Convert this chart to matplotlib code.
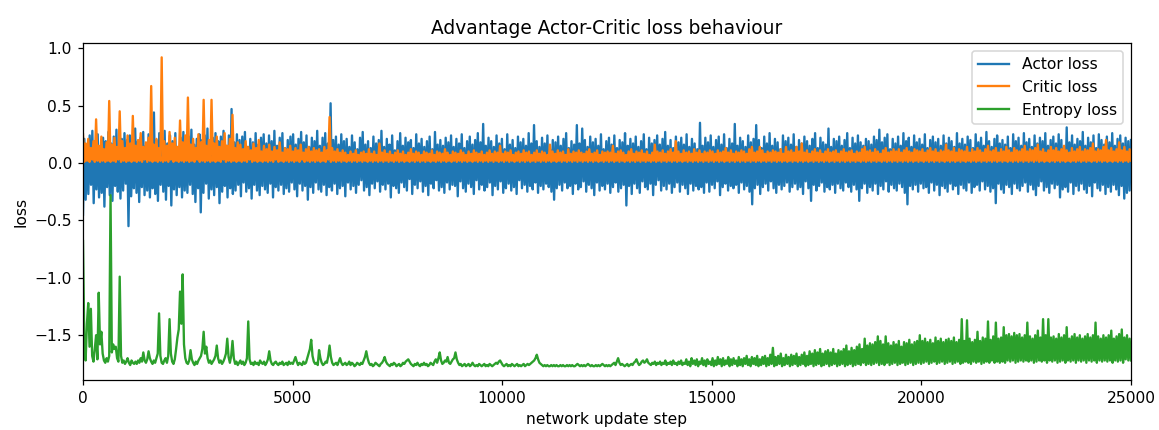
import numpy as np
import matplotlib
matplotlib.use("Agg")
import matplotlib.pyplot as plt

TITLE = "Advantage Actor-Critic loss behaviour"
XLABEL = "network update step"
YLABEL = "loss"
SERIES_NAMES = ["Actor loss", "Critic loss", "Entropy loss"]
TOTAL_STEPS = 25000

actor_loss = [
    -0.45, 0.21, -0.32, 0.16, -0.27, 0.24, -0.19, 0.28, -0.35, 0.18, -0.23, 0.25, -0.30, 0.14, -0.26, 0.22, -0.38, 0.19, -0.21, 0.27,
    -0.28, 0.17, -0.33, 0.23, -0.20, 0.29, -0.25, 0.15, -0.31, 0.21, -0.24, 0.26, -0.18, 0.20, -0.55, 0.24, -0.29, 0.16, -0.22, 0.30,
    -0.26, 0.19, -0.34, 0.22, -0.21, 0.27, -0.28, 0.15, -0.24, 0.25, -0.30, 0.18, -0.22, 0.44, -0.27, 0.20, -0.33, 0.26, -0.19,
    0.21, -0.25, 0.28, -0.32, 0.17, -0.20, 0.24, -0.37, 0.19, -0.23, 0.26, -0.28, 0.14, -0.21, 0.22, -0.30, 0.27, -0.24, 0.18, -0.26,
    0.23, -0.19, 0.29, -0.27, 0.16, -0.34, 0.21, -0.22, 0.25, -0.43, 0.20, -0.26, 0.24, -0.18, 0.30, -0.31, 0.17, -0.23, 0.22,
    -0.28, 0.26, -0.21, 0.19, -0.35, 0.23, -0.25, 0.28, -0.20, 0.15, -0.30, 0.24, -0.22, 0.47, -0.27, 0.18, -0.24, 0.25, -0.19,
    0.20, -0.29, 0.23, -0.17, 0.27, -0.25, 0.14, -0.22, 0.21, -0.31, 0.18, -0.19, 0.26, -0.24, 0.16, -0.28, 0.22, -0.20, 0.25, -0.23,
    0.17, -0.26, 0.24, -0.18, 0.19, -0.30, 0.28, -0.21, 0.15, -0.24, 0.22, -0.19, 0.26, -0.27, 0.13, -0.22, 0.20, -0.25, 0.23, -0.17,
    0.25, -0.23, 0.16, -0.29, 0.21, -0.18, 0.27, -0.24, 0.18, -0.20, 0.24, -0.32, 0.14, -0.21, 0.22, -0.26, 0.19, -0.17, 0.28, -0.23,
    0.15, -0.25, 0.22, -0.19, 0.26, -0.28, 0.17, -0.21, 0.52, -0.24, 0.20, -0.18, 0.23, -0.27, 0.16, -0.22, 0.25, -0.20, 0.19, -0.29,
    0.21, -0.17, 0.14, -0.23, 0.24, -0.20, 0.18, -0.26, 0.12, -0.19, 0.22, -0.15, 0.27, -0.24, 0.16, -0.21, 0.19, -0.28, 0.13, -0.18,
    0.23, -0.22, 0.17, -0.16, 0.20, -0.25, 0.28, -0.19, 0.14, -0.23, 0.21, -0.18, 0.16, -0.30, 0.24, -0.20, 0.11, -0.22, 0.19, -0.26,
    0.26, -0.17, 0.15, -0.21, 0.22, -0.24, 0.18, -0.14, 0.20, -0.27, 0.13, -0.19, 0.25, -0.22, 0.17, -0.16, 0.21, -0.25, 0.14, -0.20,
    0.19, -0.28, 0.23, -0.18, 0.12, -0.22, 0.27, -0.15, 0.16, -0.24, 0.20, -0.21, 0.15, -0.26, 0.22, -0.17, 0.18, -0.23, 0.24, -0.19,
    0.14, -0.20, 0.21, -0.29, 0.17, -0.16, 0.25, -0.22, 0.13, -0.25, 0.19, -0.18, 0.23, -0.21, 0.16, -0.27, 0.20, -0.15, 0.26, -0.23,
    0.18, -0.19, 0.34, -0.24, 0.15, -0.21, 0.22, -0.17, 0.19, -0.28, 0.14, -0.20, 0.24, -0.23, 0.17, -0.16, 0.21, -0.26, 0.12, -0.22,
    0.25, -0.18, 0.16, -0.24, 0.20, -0.21, 0.13, -0.27, 0.23, -0.15, 0.18, -0.22, 0.21, -0.19, 0.15, -0.25, 0.26, -0.20, 0.17, -0.23,
    0.33, -0.17, 0.19, -0.26, 0.14, -0.20, 0.22, -0.23, 0.17, -0.18, 0.24, -0.21, 0.12, -0.25, 0.20, -0.32, 0.18, -0.22, 0.23,
    -0.19, 0.15, -0.24, 0.21, -0.17, 0.26, -0.22, 0.13, -0.20, 0.19, -0.27, 0.16, -0.18, 0.33, -0.23, 0.17, -0.21, 0.30, -0.16,
    0.20, -0.25, 0.14, -0.19, 0.23, -0.22, 0.18, -0.28, 0.21, -0.17, 0.15, -0.24, 0.25, -0.20, 0.12, -0.23, 0.19, -0.18, 0.22, -0.26,
    0.16, -0.21, 0.24, -0.17, 0.13, -0.25, 0.20, -0.22, 0.18, -0.19, 0.26, -0.37, 0.15, -0.20, 0.21, -0.27, 0.17, -0.18, 0.23,
    -0.22, 0.14, -0.26, 0.19, -0.16, 0.25, -0.21, 0.12, -0.23, 0.22, -0.18, 0.17, -0.28, 0.20, -0.19, 0.24, -0.15, 0.16, -0.24, 0.21,
    -0.20, 0.27, -0.23, 0.15, -0.18, 0.20, -0.26, 0.13, -0.21, 0.23, -0.17, 0.18, -0.25, 0.22, -0.19, 0.16, -0.22, 0.25, -0.27, 0.14,
    -0.18, 0.21, -0.24, 0.17, -0.20, 0.12, -0.23, 0.35, -0.21, 0.15, -0.26, 0.22, -0.17, 0.18, -0.25, 0.24, -0.19, 0.14, -0.22,
    0.20, -0.16, 0.23, -0.28, 0.16, -0.21, 0.25, -0.18, 0.13, -0.24, 0.21, -0.20, 0.17, -0.22, 0.34, -0.19, 0.15, -0.26, 0.22, -0.17,
    0.19, -0.23, 0.14, -0.20, 0.24, -0.25, 0.18, -0.36, 0.21, -0.22, 0.33, -0.19, 0.20, -0.27, 0.13, -0.21, 0.23, -0.18,
    0.17, -0.24, 0.26, -0.16, 0.15, -0.22, 0.21, -0.26, 0.18, -0.19, 0.12, -0.23, 0.24, -0.20, 0.19, -0.17, 0.22, -0.25, 0.16, -0.21,
    0.25, -0.18, 0.14, -0.23, 0.20, -0.21, 0.17, -0.27, 0.23, -0.16, 0.19, -0.22, 0.15, -0.33, 0.21, -0.19, 0.26, -0.24, 0.13,
    -0.20, 0.22, -0.17, 0.18, -0.25, 0.16, -0.21, 0.30, -0.23, 0.14, -0.19, 0.21, -0.26, 0.19, -0.18, 0.23, -0.22, 0.15, -0.24,
    0.20, -0.17, 0.26, -0.21, 0.13, -0.25, 0.22, -0.19, 0.17, -0.23, 0.24, -0.33, 0.18, -0.22, 0.15, -0.18, 0.21, -0.26, 0.19,
    -0.21, 0.16, -0.24, 0.23, -0.18, 0.20, -0.27, 0.29, -0.20, 0.18, -0.23, 0.22, -0.16, 0.25, -0.25, 0.12, -0.19, 0.21, -0.22,
    0.17, -0.24, 0.23, -0.18, 0.15, -0.21, 0.26, -0.26, 0.19, -0.36, 0.22, -0.20, 0.14, -0.23, 0.24, -0.19, 0.18, -0.25, 0.21,
    -0.18, 0.16, -0.22, 0.25, -0.21, 0.13, -0.26, 0.20, -0.17, 0.23, -0.24, 0.18, -0.19, 0.21, -0.28, 0.15, -0.20, 0.24, -0.22, 0.17,
    -0.25, 0.22, -0.18, 0.19, -0.23, 0.14, -0.20, 0.26, -0.27, 0.17, -0.19, 0.21, -0.22, 0.16, -0.24, 0.23, -0.17, 0.20, -0.26, 0.13,
    -0.21, 0.25, -0.19, 0.18, -0.24, 0.22, -0.16, 0.15, -0.23, 0.27, -0.20, 0.19, -0.25, 0.14, -0.22, 0.21, -0.35, 0.24, -0.18, 0.17,
    -0.23, 0.20, -0.26, 0.16, -0.19, 0.23, -0.21, 0.13, -0.27, 0.25, -0.18, 0.19, -0.22, 0.22, -0.24, 0.15, -0.20, 0.26, -0.17, 0.18,
    -0.25, 0.21, -0.19, 0.14, -0.23, 0.24, -0.28, 0.17, -0.20, 0.22, -0.16, 0.19, -0.24, 0.26, -0.21, 0.15, -0.26, 0.20, -0.18, 0.23,
    -0.22, 0.17, -0.19, 0.25, -0.30, 0.20, -0.23, 0.14, -0.21, 0.31, -0.25, 0.18, -0.17, 0.24, -0.27, 0.16, -0.20, 0.21, -0.24,
    0.19, -0.18, 0.27, -0.23, 0.15, -0.26, 0.22, -0.20, 0.18, -0.29, 0.24, -0.17, 0.13, -0.22, 0.25, -0.24, 0.20, -0.19, 0.16, -0.27,
    0.23, -0.21, 0.18, -0.25, 0.26, -0.19, 0.15, -0.23, 0.21, -0.28, 0.24, -0.20, 0.17, -0.31, 0.22, -0.26, 0.19, -0.24, 0.20,
]

critic_loss = [
    0.25, 0.01, 0.17, 0.02, 0.21, 0.01, 0.13, 0.03, 0.19, 0.01, 0.38, 0.02, 0.15, 0.01, 0.23, 0.02, 0.12, 0.01, 0.18, 0.02,
    0.54, 0.01, 0.16, 0.02, 0.22, 0.01, 0.14, 0.03, 0.45, 0.01, 0.19, 0.02, 0.13, 0.01, 0.24, 0.02, 0.17, 0.01, 0.41, 0.02,
    0.15, 0.01, 0.20, 0.02, 0.26, 0.01, 0.14, 0.03, 0.18, 0.01, 0.22, 0.02, 0.67, 0.01, 0.16, 0.02, 0.21, 0.01, 0.13, 0.02,
    0.92, 0.01, 0.19, 0.02, 0.15, 0.01, 0.27, 0.03, 0.17, 0.01, 0.22, 0.02, 0.14, 0.01, 0.37, 0.02, 0.18, 0.01, 0.24, 0.02,
    0.57, 0.01, 0.16, 0.02, 0.21, 0.01, 0.13, 0.03, 0.25, 0.01, 0.18, 0.02, 0.55, 0.01, 0.15, 0.02, 0.20, 0.01, 0.55, 0.02,
    0.17, 0.01, 0.23, 0.02, 0.14, 0.01, 0.19, 0.03, 0.26, 0.01, 0.15, 0.02, 0.21, 0.01, 0.42, 0.02, 0.13, 0.01, 0.18, 0.02,
    0.16, 0.01, 0.12, 0.02, 0.19, 0.01, 0.14, 0.03, 0.11, 0.01, 0.17, 0.02, 0.13, 0.01, 0.20, 0.02, 0.10, 0.01, 0.15, 0.02,
    0.12, 0.01, 0.16, 0.02, 0.10, 0.01, 0.14, 0.03, 0.11, 0.01, 0.18, 0.02, 0.09, 0.01, 0.13, 0.02, 0.12, 0.01, 0.15, 0.02,
    0.10, 0.01, 0.13, 0.02, 0.11, 0.01, 0.16, 0.03, 0.09, 0.01, 0.12, 0.02, 0.14, 0.01, 0.10, 0.02, 0.13, 0.01, 0.11, 0.02,
    0.12, 0.01, 0.09, 0.02, 0.14, 0.01, 0.11, 0.03, 0.40, 0.01, 0.13, 0.02, 0.10, 0.01, 0.12, 0.02, 0.09, 0.01, 0.11, 0.02,
    0.09, 0.01, 0.07, 0.02, 0.10, 0.01, 0.08, 0.02, 0.11, 0.01, 0.07, 0.02, 0.09, 0.01, 0.10, 0.02, 0.08, 0.01, 0.12, 0.02,
    0.08, 0.01, 0.10, 0.02, 0.07, 0.01, 0.17, 0.02, 0.09, 0.01, 0.11, 0.02, 0.08, 0.01, 0.10, 0.02, 0.07, 0.01, 0.09, 0.02,
    0.11, 0.01, 0.08, 0.02, 0.10, 0.01, 0.07, 0.02, 0.09, 0.01, 0.12, 0.02, 0.08, 0.01, 0.10, 0.02, 0.09, 0.01, 0.07, 0.02,
    0.10, 0.01, 0.09, 0.02, 0.08, 0.01, 0.11, 0.02, 0.07, 0.01, 0.10, 0.02, 0.09, 0.01, 0.08, 0.02, 0.12, 0.01, 0.09, 0.02,
    0.07, 0.01, 0.10, 0.02, 0.09, 0.01, 0.08, 0.02, 0.11, 0.01, 0.09, 0.02, 0.07, 0.01, 0.10, 0.02, 0.08, 0.01, 0.11, 0.02,
    0.09, 0.01, 0.08, 0.02, 0.10, 0.01, 0.07, 0.02, 0.09, 0.01, 0.11, 0.02, 0.08, 0.01, 0.10, 0.02, 0.09, 0.01, 0.15, 0.02,
    0.08, 0.01, 0.10, 0.02, 0.09, 0.01, 0.11, 0.02, 0.07, 0.01, 0.09, 0.02, 0.10, 0.01, 0.08, 0.02, 0.11, 0.01, 0.09, 0.02,
    0.10, 0.01, 0.07, 0.02, 0.09, 0.01, 0.11, 0.02, 0.08, 0.01, 0.10, 0.02, 0.09, 0.01, 0.07, 0.02, 0.16, 0.01, 0.10, 0.02,
    0.08, 0.01, 0.11, 0.02, 0.09, 0.01, 0.10, 0.02, 0.07, 0.01, 0.12, 0.02, 0.08, 0.01, 0.10, 0.02, 0.09, 0.01, 0.11, 0.02,
    0.09, 0.01, 0.08, 0.02, 0.10, 0.01, 0.12, 0.02, 0.08, 0.01, 0.09, 0.02, 0.11, 0.01, 0.07, 0.02, 0.10, 0.01, 0.09, 0.02,
    0.10, 0.01, 0.09, 0.02, 0.15, 0.01, 0.08, 0.02, 0.10, 0.01, 0.11, 0.02, 0.09, 0.01, 0.07, 0.02, 0.10, 0.01, 0.12, 0.02,
    0.08, 0.01, 0.10, 0.02, 0.09, 0.01, 0.11, 0.02, 0.08, 0.01, 0.10, 0.02, 0.07, 0.01, 0.09, 0.02, 0.16, 0.01, 0.10, 0.02,
    0.09, 0.01, 0.11, 0.02, 0.08, 0.01, 0.10, 0.02, 0.12, 0.01, 0.09, 0.02, 0.19, 0.01, 0.10, 0.02, 0.08, 0.01, 0.11, 0.02,
    0.09, 0.01, 0.10, 0.02, 0.08, 0.01, 0.12, 0.02, 0.09, 0.01, 0.11, 0.02, 0.08, 0.01, 0.10, 0.02, 0.09, 0.01, 0.11, 0.02,
    0.10, 0.01, 0.08, 0.02, 0.11, 0.01, 0.09, 0.02, 0.10, 0.01, 0.13, 0.02, 0.09, 0.01, 0.11, 0.02, 0.08, 0.01, 0.10, 0.02,
    0.09, 0.01, 0.11, 0.02, 0.10, 0.01, 0.08, 0.02, 0.12, 0.01, 0.14, 0.02, 0.09, 0.01, 0.10, 0.02, 0.14, 0.01, 0.11, 0.02,
    0.08, 0.01, 0.10, 0.02, 0.09, 0.01, 0.11, 0.02, 0.10, 0.01, 0.09, 0.02, 0.12, 0.01, 0.08, 0.02, 0.14, 0.01, 0.10, 0.02,
    0.11, 0.01, 0.09, 0.02, 0.14, 0.01, 0.10, 0.02, 0.17, 0.01, 0.09, 0.02, 0.11, 0.01, 0.08, 0.02, 0.10, 0.01, 0.12, 0.02,
    0.09, 0.01, 0.11, 0.02, 0.08, 0.01, 0.10, 0.02, 0.12, 0.01, 0.09, 0.02, 0.10, 0.01, 0.11, 0.02, 0.08, 0.01, 0.10, 0.02,
    0.12, 0.01, 0.09, 0.02, 0.10, 0.01, 0.11, 0.02, 0.08, 0.01, 0.10, 0.02, 0.09, 0.01, 0.12, 0.02, 0.14, 0.01, 0.10, 0.02,
    0.11, 0.01, 0.09, 0.02, 0.12, 0.01, 0.10, 0.02, 0.08, 0.01, 0.11, 0.02, 0.13, 0.01, 0.09, 0.02, 0.10, 0.01, 0.12, 0.02,
    0.10, 0.01, 0.12, 0.02, 0.09, 0.01, 0.11, 0.02, 0.13, 0.01, 0.10, 0.02, 0.09, 0.01, 0.12, 0.02, 0.11, 0.01, 0.10, 0.02,
    0.12, 0.01, 0.09, 0.02, 0.11, 0.01, 0.13, 0.02, 0.10, 0.01, 0.12, 0.02, 0.09, 0.01, 0.11, 0.02, 0.10, 0.01, 0.16, 0.02,
    0.11, 0.01, 0.10, 0.02, 0.13, 0.01, 0.09, 0.02, 0.12, 0.01, 0.11, 0.02, 0.10, 0.01, 0.14, 0.02, 0.09, 0.01, 0.12, 0.02,
    0.10, 0.01, 0.13, 0.02, 0.11, 0.01, 0.09, 0.02, 0.12, 0.01, 0.15, 0.02, 0.10, 0.01, 0.11, 0.02, 0.13, 0.01, 0.09, 0.02,
    0.12, 0.01, 0.10, 0.02, 0.14, 0.01, 0.11, 0.02, 0.09, 0.01, 0.13, 0.02, 0.11, 0.01, 0.10, 0.02, 0.12, 0.01, 0.15, 0.02,
    0.10, 0.01, 0.12, 0.02, 0.11, 0.01, 0.13, 0.02, 0.16, 0.01, 0.10, 0.02, 0.12, 0.01, 0.09, 0.02, 0.11, 0.01, 0.14, 0.02,
    0.11, 0.01, 0.13, 0.02, 0.10, 0.01, 0.12, 0.02, 0.15, 0.01, 0.11, 0.02, 0.09, 0.01, 0.13, 0.02, 0.10, 0.01, 0.12, 0.02,
    0.14, 0.01, 0.10, 0.02, 0.12, 0.01, 0.11, 0.02, 0.13, 0.01, 0.17, 0.02, 0.10, 0.01, 0.12, 0.02, 0.11, 0.01, 0.14, 0.02,
    0.20, 0.01, 0.11, 0.02, 0.13, 0.01, 0.10, 0.02, 0.12, 0.01, 0.18, 0.02, 0.11, 0.01, 0.14, 0.02, 0.10, 0.01, 0.12, 0.02,
]

entropy_loss = [
    -0.68, -1.55, -1.72, -1.40, -1.22, -1.60, -1.27, -1.68, -1.73, -1.62, -1.50, -1.71, -1.13, -1.58, -1.47, -1.66, -1.72, -1.74, -1.70, -1.73,
    -1.68, -0.28, -1.65, -1.58, -1.62, -1.60, -1.70, -1.73, -0.99, -1.68, -1.74, -1.72, -1.75, -1.73, -1.70, -1.74, -1.76, -1.72, -1.74, -1.75,
    -1.73, -1.75, -1.72, -1.74, -1.70, -1.73, -1.65, -1.72, -1.74, -1.71, -1.64, -1.70, -1.73, -1.75, -1.72, -1.74, -1.70, -1.66, -1.31, -1.68,
    -1.74, -1.75, -1.72, -1.70, -1.74, -1.68, -1.36, -1.66, -1.73, -1.75, -1.71, -1.62, -1.52, -1.45, -1.12, -1.40, -0.97, -1.58, -1.70, -1.74,
    -1.75, -1.72, -1.63, -1.71, -1.74, -1.76, -1.73, -1.75, -1.72, -1.70, -1.68, -1.62, -1.47, -1.66, -1.60, -1.70, -1.74, -1.72, -1.75, -1.73,
    -1.71, -1.68, -1.59, -1.70, -1.74, -1.72, -1.75, -1.73, -1.70, -1.66, -1.53, -1.69, -1.74, -1.68, -1.55, -1.70, -1.75, -1.73, -1.76, -1.74,
    -1.72, -1.75, -1.73, -1.76, -1.74, -1.70, -1.38, -1.71, -1.75, -1.74, -1.76, -1.73, -1.75, -1.74, -1.76, -1.72, -1.74, -1.75, -1.73, -1.76,
    -1.74, -1.71, -1.64, -1.72, -1.75, -1.76, -1.74, -1.73, -1.75, -1.76, -1.74, -1.75, -1.73, -1.76, -1.75, -1.74, -1.76, -1.73, -1.75, -1.74,
    -1.75, -1.72, -1.69, -1.73, -1.76, -1.74, -1.75, -1.76, -1.73, -1.75, -1.74, -1.70, -1.66, -1.62, -1.54, -1.68, -1.73, -1.75, -1.74, -1.76,
    -1.63, -1.70, -1.74, -1.76, -1.75, -1.73, -1.74, -1.68, -1.59, -1.69, -1.74, -1.76, -1.75, -1.74, -1.76, -1.73, -1.70, -1.74, -1.76, -1.75,
    -1.74, -1.76, -1.75, -1.73, -1.76, -1.74, -1.75, -1.77, -1.76, -1.74, -1.75, -1.76, -1.74, -1.75, -1.72, -1.69, -1.64, -1.70, -1.74, -1.76,
    -1.75, -1.77, -1.76, -1.74, -1.75, -1.76, -1.77, -1.75, -1.74, -1.72, -1.69, -1.73, -1.75, -1.76, -1.77, -1.75, -1.76, -1.74, -1.75, -1.77,
    -1.76, -1.75, -1.77, -1.76, -1.74, -1.75, -1.73, -1.72, -1.71, -1.73, -1.75, -1.76, -1.77, -1.75, -1.76, -1.74, -1.76, -1.77, -1.75, -1.76,
    -1.74, -1.76, -1.75, -1.77, -1.76, -1.74, -1.75, -1.76, -1.73, -1.71, -1.74, -1.70, -1.65, -1.72, -1.75, -1.74, -1.72, -1.73, -1.69, -1.74,
    -1.75, -1.73, -1.71, -1.70, -1.65, -1.71, -1.74, -1.76, -1.75, -1.77, -1.76, -1.75, -1.77, -1.76, -1.75, -1.77, -1.76, -1.74, -1.76, -1.77,
    -1.76, -1.77, -1.75, -1.76, -1.77, -1.76, -1.75, -1.77, -1.76, -1.77, -1.75, -1.76, -1.77, -1.76, -1.75, -1.74, -1.75, -1.73, -1.72, -1.74,
    -1.76, -1.77, -1.76, -1.75, -1.77, -1.76, -1.77, -1.75, -1.76, -1.77, -1.76, -1.75, -1.77, -1.76, -1.77, -1.76, -1.75, -1.77, -1.76, -1.75,
    -1.76, -1.75, -1.74, -1.73, -1.72, -1.70, -1.67, -1.71, -1.74, -1.75, -1.76, -1.77, -1.76, -1.77, -1.76, -1.77, -1.77, -1.76, -1.77, -1.76,
    -1.77, -1.76, -1.77, -1.77, -1.76, -1.77, -1.76, -1.77, -1.77, -1.76, -1.77, -1.76, -1.77, -1.76, -1.77, -1.77, -1.76, -1.75, -1.76, -1.77,
    -1.76, -1.77, -1.76, -1.77, -1.76, -1.75, -1.76, -1.77, -1.76, -1.77, -1.77, -1.76, -1.77, -1.76, -1.77, -1.76, -1.75, -1.76, -1.77, -1.76,
    -1.77, -1.76, -1.77, -1.76, -1.75, -1.74, -1.76, -1.73, -1.70, -1.74, -1.76, -1.75, -1.76, -1.77, -1.76, -1.75, -1.77, -1.76, -1.75, -1.76,
    -1.74, -1.73, -1.71, -1.74, -1.76, -1.75, -1.73, -1.72, -1.74, -1.73, -1.71, -1.74, -1.75, -1.76, -1.74, -1.75, -1.73, -1.76, -1.74, -1.75,
    -1.73, -1.76, -1.74, -1.75, -1.72, -1.76, -1.74, -1.75, -1.73, -1.76, -1.72, -1.75, -1.74, -1.76, -1.73, -1.75, -1.72, -1.76, -1.74, -1.75,
    -1.71, -1.76, -1.73, -1.77, -1.70, -1.75, -1.72, -1.76, -1.71, -1.77, -1.73, -1.75, -1.70, -1.76, -1.72, -1.77, -1.71, -1.75, -1.73, -1.76,
    -1.70, -1.77, -1.72, -1.76, -1.69, -1.75, -1.71, -1.77, -1.70, -1.76, -1.72, -1.75, -1.69, -1.77, -1.71, -1.76, -1.70, -1.75, -1.72, -1.77,
    -1.69, -1.76, -1.71, -1.77, -1.70, -1.75, -1.68, -1.76, -1.71, -1.77, -1.69, -1.75, -1.70, -1.76, -1.68, -1.77, -1.71, -1.76, -1.69, -1.75,
    -1.68, -1.77, -1.70, -1.76, -1.67, -1.75, -1.61, -1.77, -1.69, -1.76, -1.68, -1.75, -1.66, -1.77, -1.70, -1.76, -1.67, -1.75, -1.69, -1.77,
    -1.67, -1.76, -1.68, -1.75, -1.66, -1.77, -1.69, -1.76, -1.67, -1.75, -1.65, -1.77, -1.68, -1.76, -1.64, -1.75, -1.66, -1.77, -1.63, -1.76,
    -1.65, -1.75, -1.62, -1.77, -1.66, -1.76, -1.64, -1.75, -1.63, -1.77, -1.65, -1.76, -1.62, -1.75, -1.66, -1.77, -1.63, -1.76, -1.64, -1.75,
    -1.62, -1.77, -1.59, -1.76, -1.64, -1.75, -1.61, -1.77, -1.63, -1.76, -1.60, -1.75, -1.58, -1.76, -1.62, -1.74, -1.53, -1.76, -1.59, -1.75,
    -1.57, -1.76, -1.58, -1.75, -1.56, -1.74, -1.51, -1.76, -1.55, -1.75, -1.58, -1.76, -1.51, -1.74, -1.57, -1.76, -1.59, -1.75, -1.56, -1.74,
    -1.58, -1.76, -1.55, -1.75, -1.60, -1.74, -1.56, -1.76, -1.57, -1.75, -1.54, -1.74, -1.58, -1.76, -1.56, -1.75, -1.55, -1.74, -1.50, -1.75,
    -1.55, -1.74, -1.53, -1.73, -1.56, -1.75, -1.54, -1.74, -1.57, -1.73, -1.52, -1.75, -1.55, -1.74, -1.53, -1.73, -1.56, -1.75, -1.54, -1.74,
    -1.53, -1.73, -1.55, -1.75, -1.52, -1.74, -1.56, -1.73, -1.54, -1.75, -1.36, -1.74, -1.55, -1.73, -1.37, -1.74, -1.53, -1.75, -1.56, -1.73,
    -1.54, -1.74, -1.47, -1.73, -1.55, -1.75, -1.52, -1.74, -1.53, -1.73, -1.38, -1.74, -1.54, -1.72, -1.51, -1.74, -1.39, -1.73, -1.53, -1.74,
    -1.52, -1.73, -1.43, -1.74, -1.50, -1.72, -1.49, -1.73, -1.51, -1.72, -1.48, -1.74, -1.50, -1.73, -1.49, -1.72, -1.52, -1.73, -1.50, -1.72,
    -1.39, -1.73, -1.51, -1.72, -1.53, -1.74, -1.50, -1.73, -1.46, -1.72, -1.52, -1.73, -1.36, -1.72, -1.50, -1.74, -1.36, -1.72, -1.52, -1.73,
    -1.51, -1.72, -1.53, -1.74, -1.49, -1.73, -1.52, -1.72, -1.50, -1.74, -1.43, -1.72, -1.53, -1.73, -1.51, -1.72, -1.49, -1.74, -1.52, -1.72,
    -1.50, -1.73, -1.53, -1.72, -1.51, -1.74, -1.49, -1.72, -1.52, -1.73, -1.50, -1.72, -1.39, -1.74, -1.51, -1.72, -1.53, -1.73, -1.50, -1.72,
    -1.52, -1.73, -1.50, -1.72, -1.46, -1.74, -1.53, -1.72, -1.51, -1.73, -1.49, -1.72, -1.45, -1.74, -1.52, -1.71, -1.50, -1.72, -1.53, -1.72,
]

DPI = 112
fig = plt.figure(figsize=(1159 / DPI, 430 / DPI), dpi=DPI)
ax = fig.add_axes([0.0716, 0.1163, 0.9042, 0.7837])

for name, vals in zip(SERIES_NAMES, [actor_loss, critic_loss, entropy_loss]):
    steps = np.linspace(0, TOTAL_STEPS, len(vals))
    ax.plot(steps, vals, label=name, linewidth=1.5)

ax.set_xlim(0, TOTAL_STEPS)
ax.set_ylim(-1.89, 1.045)
ax.set_title(TITLE)
ax.set_xlabel(XLABEL)
ax.set_ylabel(YLABEL)
ax.legend(loc="upper right")

fig.savefig("out.png", dpi=DPI)
